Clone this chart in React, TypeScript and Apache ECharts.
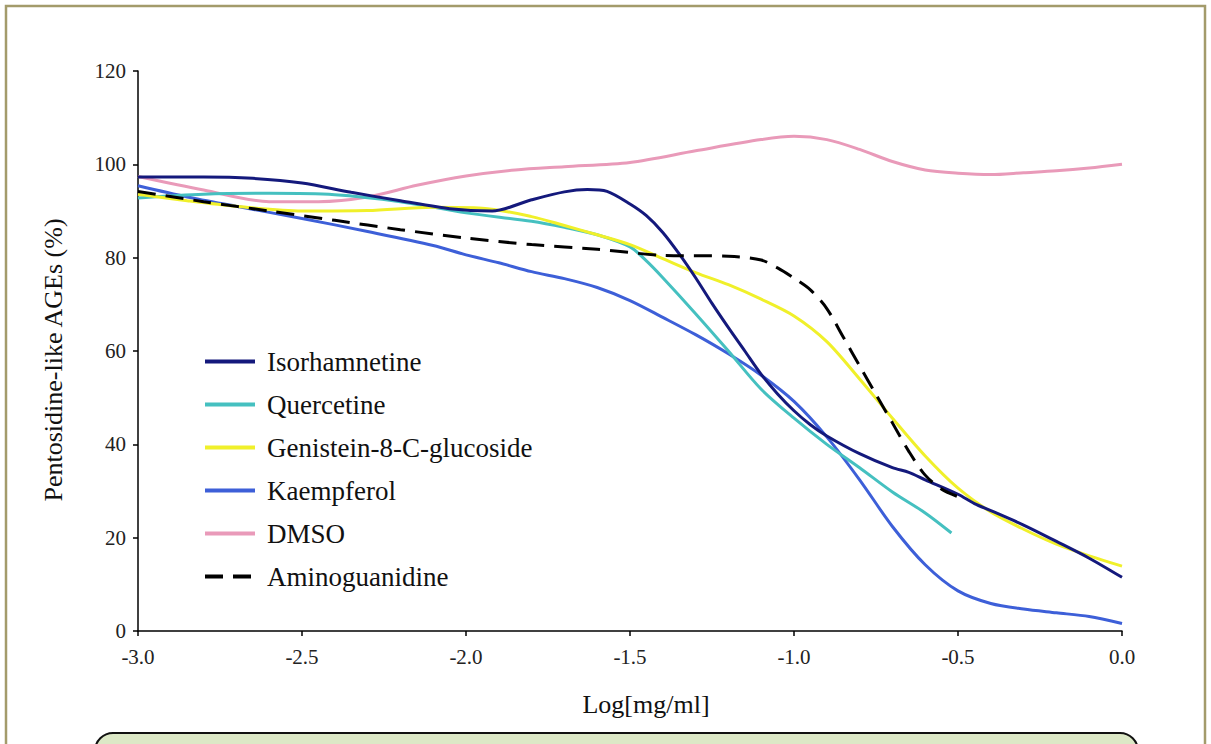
import React, { useEffect, useRef } from "react";
import * as echarts from "echarts";

const xTicks = [-3.0, -2.5, -2.0, -1.5, -1.0, -0.5, 0.0];
const yTicks = [0, 20, 40, 60, 80, 100, 120];

const seriesNames = [
  "Isorhamnetine",
  "Quercetine",
  "Genistein-8-C-glucoside",
  "Kaempferol",
  "DMSO",
  "Aminoguanidine",
];

const isorhamnetine: [number, number][] = [
  [-3, 97.3], [-2.8, 97.3], [-2.65, 97], [-2.5, 96], [-2.35, 94], [-2.2, 92.2],
  [-2.05, 90.5], [-1.92, 90], [-1.8, 92.4], [-1.7, 94.1], [-1.63, 94.6], [-1.57, 94.2],
  [-1.5, 91.5], [-1.45, 89], [-1.4, 85.4], [-1.35, 80.8], [-1.3, 75.7], [-1.25, 70.2],
  [-1.2, 65], [-1.15, 60], [-1.1, 55], [-1.05, 50.8], [-1.0, 47.2], [-0.95, 44.2],
  [-0.9, 41.8], [-0.8, 38], [-0.7, 35], [-0.65, 34], [-0.6, 32.4], [-0.5, 29.3],
  [-0.45, 27.3], [-0.4, 25.8], [-0.3, 22.7], [-0.2, 19.2], [-0.1, 15.6], [0, 11.5],
];

const quercetine: [number, number][] = [
  [-3, 92.8], [-2.8, 93.6], [-2.6, 93.8], [-2.4, 93.5], [-2.2, 92], [-2.0, 89.6],
  [-1.8, 87.8], [-1.7, 86.5], [-1.6, 84.9], [-1.5, 82.3], [-1.45, 79.3], [-1.4, 75.7],
  [-1.3, 68], [-1.2, 60], [-1.1, 51.8], [-1.0, 45.6], [-0.9, 40], [-0.8, 35],
  [-0.7, 29.8], [-0.6, 25.3], [-0.52, 21],
];

const genistein: [number, number][] = [
  [-3, 93.6], [-2.85, 92.2], [-2.7, 91], [-2.5, 90], [-2.3, 90.1], [-2.1, 90.8],
  [-1.95, 90.6], [-1.8, 88.8], [-1.7, 86.9], [-1.6, 84.9], [-1.5, 82.8], [-1.4, 79.8],
  [-1.3, 76.8], [-1.2, 74.2], [-1.1, 71.1], [-1.0, 67.5], [-0.9, 62], [-0.8, 54],
  [-0.7, 45.6], [-0.6, 37.5], [-0.5, 30.6], [-0.4, 25.5], [-0.3, 21.8], [-0.2, 18.6],
  [-0.1, 16.1], [0, 13.9],
];

const kaempferol: [number, number][] = [
  [-3, 95.4], [-2.85, 93], [-2.7, 91], [-2.5, 88.4], [-2.3, 85.6], [-2.1, 82.6],
  [-2.0, 80.6], [-1.9, 78.9], [-1.8, 77], [-1.7, 75.5], [-1.6, 73.6], [-1.5, 70.8],
  [-1.4, 67.2], [-1.3, 63.5], [-1.2, 59.4], [-1.1, 54.8], [-1.0, 49.2], [-0.9, 41.6],
  [-0.8, 32.4], [-0.7, 22.4], [-0.6, 14.2], [-0.5, 8.6], [-0.4, 5.9], [-0.3, 4.7],
  [-0.2, 3.9], [-0.1, 3.1], [0, 1.6],
];

const dmso: [number, number][] = [
  [-3, 97.4], [-2.8, 94.5], [-2.6, 92], [-2.45, 92], [-2.3, 93], [-2.15, 95.5],
  [-2.0, 97.5], [-1.85, 98.8], [-1.7, 99.5], [-1.5, 100.4], [-1.3, 102.9], [-1.1, 105.3],
  [-1.0, 106], [-0.9, 105.3], [-0.8, 103.2], [-0.7, 100.6], [-0.6, 98.8], [-0.5, 98.1],
  [-0.4, 97.8], [-0.3, 98.2], [-0.2, 98.6], [-0.1, 99.2], [0, 100],
];

const aminoguanidine: [number, number][] = [
  [-3, 94.2], [-2.8, 92], [-2.6, 90], [-2.4, 88], [-2.2, 86], [-2.0, 84.2],
  [-1.8, 82.8], [-1.6, 81.8], [-1.4, 80.5], [-1.2, 80.3], [-1.1, 79.5], [-1.05, 77.8],
  [-1.0, 75.6], [-0.95, 73.1], [-0.9, 69.1], [-0.85, 63], [-0.8, 56.8], [-0.75, 50.7],
  [-0.7, 44.6], [-0.65, 38.5], [-0.6, 33.4], [-0.55, 30.4], [-0.49, 28.5],
];

const colors = ["#14197c", "#45c0c0", "#f0f02a", "#3d5fd8", "#e99ab9", "#000000"];

const FONT = "'Liberation Serif', 'Times New Roman', serif";

export default function App() {
  const ref = useRef<HTMLDivElement>(null);

  useEffect(() => {
    if (!ref.current) return;
    const chart = echarts.init(ref.current, undefined, { renderer: "svg" });

    const mk = (i: number, data: [number, number][], z: number, dashed = false) => ({
      name: seriesNames[i],
      type: "line",
      data,
      smooth: 0.3,
      symbol: "none",
      showSymbol: false,
      z,
      lineStyle: {
        color: colors[i],
        width: 3,
        type: dashed ? [18, 10] : "solid",
      },
      itemStyle: { color: colors[i] },
    });

    chart.setOption({
      animation: false,
      backgroundColor: "#ffffff",
      grid: { left: 138, top: 71, width: 984, height: 560, containLabel: false },
      legend: {
        data: seriesNames,
        orient: "vertical",
        left: 198,
        top: 335,
        itemWidth: 50,
        itemHeight: 14,
        itemGap: 0,
        itemStyle: { opacity: 0, borderWidth: 0 },
        lineStyle: { width: 4 },
        textStyle: {
          fontFamily: FONT,
          fontSize: 27,
          color: "#111",
          lineHeight: 43,
          padding: [0, 0, 0, 7],
        },
      },
      xAxis: {
        type: "value",
        min: -3,
        max: 0,
        interval: 0.5,
        name: "Log[mg/ml]",
        nameLocation: "middle",
        nameGap: 60,
        nameTextStyle: {
          fontFamily: FONT,
          fontSize: 26,
          color: "#111",
          padding: [0, 0, 0, 32],
        },
        axisLine: { onZero: false, lineStyle: { color: "#000", width: 1.5 } },
        axisTick: { show: true, length: 5, lineStyle: { color: "#000", width: 1.5 } },
        axisLabel: {
          fontFamily: FONT,
          fontSize: 21,
          color: "#222",
          margin: 15,
          formatter: (v: number) => {
            const t = xTicks.find((k) => Math.abs(k - v) < 1e-9);
            return t === undefined ? "" : t.toFixed(1);
          },
        },
        splitLine: { show: false },
      },
      yAxis: {
        type: "value",
        position: "left",
        min: 0,
        max: 120,
        interval: 20,
        name: "Pentosidine-like AGEs (%)",
        nameLocation: "middle",
        nameGap: 72,
        nameRotate: 90,
        nameTextStyle: {
          fontFamily: FONT,
          fontSize: 26,
          color: "#111",
          padding: [0, 18, 0, 0],
        },
        axisLine: { show: true, onZero: false, lineStyle: { color: "#000", width: 1.5 } },
        axisTick: { show: true, length: 5, lineStyle: { color: "#000", width: 1.5 } },
        axisLabel: {
          fontFamily: FONT,
          fontSize: 21,
          color: "#222",
          margin: 12,
          formatter: (v: number) => {
            const t = yTicks.find((k) => Math.abs(k - v) < 1e-9);
            return t === undefined ? "" : String(t);
          },
        },
        splitLine: { show: false },
      },
      graphic: [
        {
          type: "rect",
          shape: { x: 6, y: 6, width: 1199, height: 780 },
          style: { fill: "none", stroke: "#a39b6b", lineWidth: 2.5 },
          silent: true,
          z: 100,
        },
        {
          type: "rect",
          shape: { x: 95, y: 733, width: 1043, height: 60, r: 18 },
          style: { fill: "#dce8c6", stroke: "#111", lineWidth: 2 },
          silent: true,
          z: 100,
        },
      ],
      series: [
        mk(4, dmso, 2),
        mk(3, kaempferol, 3),
        mk(1, quercetine, 4),
        mk(2, genistein, 5),
        mk(0, isorhamnetine, 6),
        mk(5, aminoguanidine, 7, true),
      ],
    });

    return () => chart.dispose();
  }, []);

  return (
    <div
      ref={ref}
      style={{ position: "fixed", left: 0, top: 0, width: 1211, height: 744, background: "#fff" }}
    />
  );
}
